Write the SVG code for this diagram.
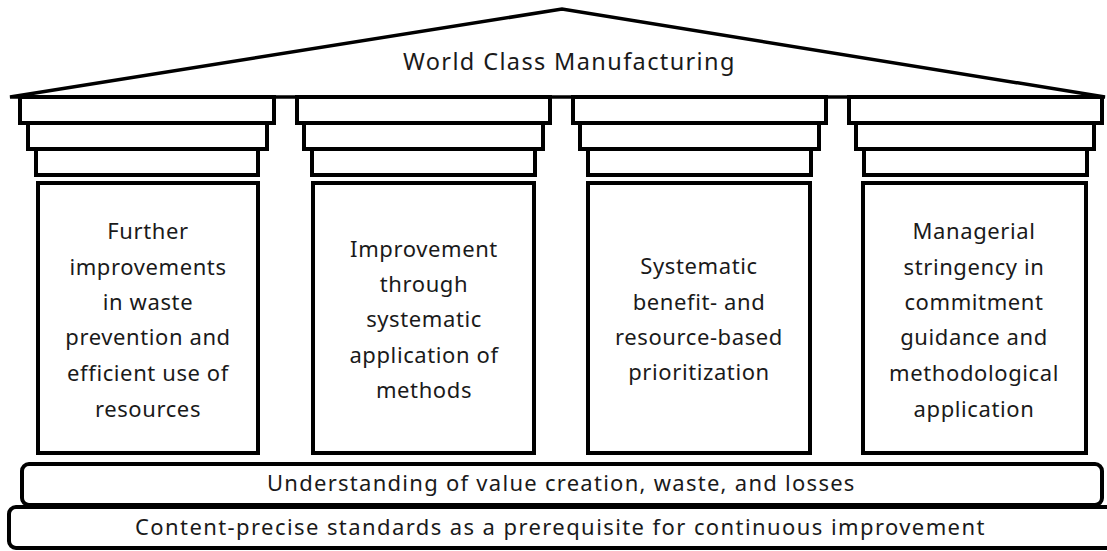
<svg xmlns="http://www.w3.org/2000/svg" width="1107" height="551" viewBox="0 0 1107 551">
<style>
.s{fill:#fff;stroke:#000;stroke-width:4}
.r{fill:#fff;stroke:#000;stroke-width:3.5;stroke-linejoin:miter}
text{font-family:"Noto Sans","Liberation Sans",sans-serif;font-size:22px;fill:#1a1a1a;text-anchor:middle;letter-spacing:0.6px}
.t{font-size:23.5px}
</style>
<rect width="1107" height="551" fill="#fff"/>
<g id="roof">
<polygon class="r" points="10,97 562,9 1105,97"/>
<text class="t" x="569" y="70" textLength="332">World Class Manufacturing</text>
</g>
<g id="pillar1">
<rect class="s" x="20" y="97" width="254" height="26"/>
<rect class="s" x="28" y="123" width="239" height="26"/>
<rect class="s" x="36" y="149" width="222" height="26"/>
<rect class="s" x="38" y="183" width="220" height="270"/>
<text x="148" y="239">Further</text>
<text x="148" y="275">improvements</text>
<text x="148" y="310">in waste</text>
<text x="148" y="345">prevention and</text>
<text x="148" y="381">efficient use of</text>
<text x="148" y="417">resources</text>
</g>
<g id="pillar2">
<rect class="s" x="297" y="97" width="253" height="26"/>
<rect class="s" x="304" y="123" width="239" height="26"/>
<rect class="s" x="312" y="149" width="223" height="26"/>
<rect class="s" x="313" y="183" width="221" height="270"/>
<text x="424" y="257">Improvement</text>
<text x="424" y="292">through</text>
<text x="424" y="327">systematic</text>
<text x="424" y="363">application of</text>
<text x="424" y="398">methods</text>
</g>
<g id="pillar3">
<rect class="s" x="573" y="97" width="253" height="26"/>
<rect class="s" x="580" y="123" width="239" height="26"/>
<rect class="s" x="588" y="149" width="223" height="26"/>
<rect class="s" x="588" y="183" width="222" height="270"/>
<text x="699" y="274">Systematic</text>
<text x="699" y="310">benefit- and</text>
<text x="699" y="345">resource-based</text>
<text x="699" y="380">prioritization</text>
</g>
<g id="pillar4">
<rect class="s" x="849" y="97" width="253" height="26"/>
<rect class="s" x="856" y="123" width="238" height="26"/>
<rect class="s" x="864" y="149" width="223" height="26"/>
<rect class="s" x="863" y="183" width="223" height="270"/>
<text x="974" y="239">Managerial</text>
<text x="974" y="275">stringency in</text>
<text x="974" y="310">commitment</text>
<text x="974" y="345">guidance and</text>
<text x="974" y="381">methodological</text>
<text x="974" y="417">application</text>
</g>
<g id="base1">
<rect class="s" x="22" y="464" width="1080" height="41" rx="7"/>
<text x="561" y="491" textLength="588">Understanding of value creation, waste, and losses</text>
</g>
<g id="base2">
<rect class="s" x="9" y="507" width="1110" height="41" rx="7"/>
<text x="560" y="535" textLength="850">Content-precise standards as a prerequisite for continuous improvement</text>
</g>
<g id="connectors"/>
</svg>
